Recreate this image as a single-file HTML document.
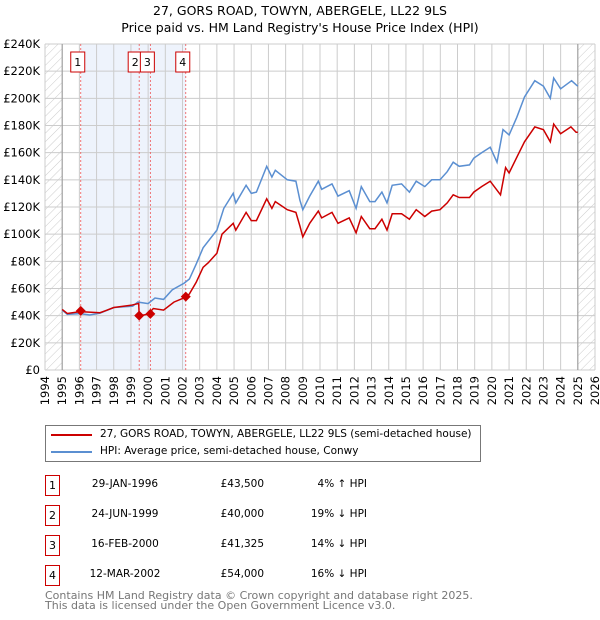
<!DOCTYPE html>
<html><head><meta charset="utf-8"><style>
body{margin:0;background:#fff;font-family:"DejaVu Sans","Liberation Sans",sans-serif;}
#wrap{position:relative;width:600px;height:620px;overflow:hidden;}
.t{position:absolute;font-size:10.5px;color:#000;white-space:nowrap;}
.box{position:absolute;width:13px;height:19px;border:1px solid #c00;font-size:11px;text-align:center;line-height:19px;}
</style></head><body><div id="wrap">
<svg id="svg" width="600" height="420" style="position:absolute;left:0;top:0;font-family:'DejaVu Sans','Liberation Sans',sans-serif"></svg>
<div class="t" style="left:0;width:600px;text-align:center;top:3px;font-size:12.5px">27, GORS ROAD, TOWYN, ABERGELE, LL22 9LS</div>
<div class="t" style="left:0;width:600px;text-align:center;top:20px;font-size:12.5px">Price paid vs. HM Land Registry's House Price Index (HPI)</div>
<div style="position:absolute;left:45px;top:425px;width:434px;height:35px;border:1px solid #777">
 <div style="position:absolute;left:5px;top:8px;width:41px;height:2px;background:#c00"></div>
 <div class="t" style="left:54px;top:2px">27, GORS ROAD, TOWYN, ABERGELE, LL22 9LS (semi-detached house)</div>
 <div style="position:absolute;left:5px;top:25px;width:41px;height:2px;background:#5b8fd1"></div>
 <div class="t" style="left:54px;top:19px">HPI: Average price, semi-detached house, Conwy</div>
</div>
<div id="tbl"></div>
<div class="t" style="left:45px;top:591px;color:#777;line-height:10px;font-size:11px">Contains HM Land Registry data © Crown copyright and database right 2025.<br>This data is licensed under the Open Government Licence v3.0.</div>
</div>
<script>
const yTicks=[0,20,40,60,80,100,120,140,160,180,200,220,240];
const years=[1994,1995,1996,1997,1998,1999,2000,2001,2002,2003,2004,2005,2006,2007,2008,2009,2010,2011,2012,2013,2014,2015,2016,2017,2018,2019,2020,2021,2022,2023,2024,2025,2026];
const hpiDates=[1995.0,1995.3,1996.04,1996.6,1997.2,1998.0,1999.1,1999.4,2000.0,2000.4,2000.9,2001.4,2002.1,2002.4,2002.8,2003.2,2004.0,2004.4,2004.95,2005.1,2005.7,2006.0,2006.3,2006.9,2007.2,2007.4,2008.1,2008.6,2008.83,2009.0,2009.4,2009.9,2010.1,2010.7,2011.05,2011.7,2012.1,2012.4,2012.9,2013.2,2013.6,2013.9,2014.2,2014.75,2015.2,2015.6,2016.1,2016.5,2016.98,2017.4,2017.75,2018.1,2018.7,2018.95,2019.4,2019.9,2020.3,2020.65,2021.0,2021.45,2021.9,2022.5,2023.0,2023.4,2023.6,2024.0,2024.64,2024.9,2025.0];
const hpiValues=[44,41,41.5,40.5,41.9,46,47,50,48.9,53,52,59,64,67,78,90,103,119,130,123,136,130,131,150,142,147,140,139,125,118,128,139,133,137,128,132,119,135,124,124,131,123,136,137,131,139,135,140,140,146,153,150,151,156,160,164,153,177,173,186,201,213,209,200,215,207,213,210,209];
const propDates=[1995.0,1995.3,1996.04,1997.2,1997.6,1998.0,1999.0,1999.45,1999.48,2000.0,2000.3,2000.9,2001.5,2002.2,2002.4,2002.8,2003.2,2003.5,2004.0,2004.3,2004.95,2005.1,2005.7,2006.0,2006.3,2006.9,2007.2,2007.4,2008.1,2008.6,2008.83,2009.0,2009.4,2009.9,2010.1,2010.7,2011.05,2011.7,2012.1,2012.4,2012.9,2013.2,2013.6,2013.9,2014.2,2014.75,2015.2,2015.6,2016.1,2016.5,2016.98,2017.4,2017.75,2018.1,2018.7,2018.95,2019.4,2019.9,2020.5,2020.8,2021.0,2021.5,2021.9,2022.5,2023.0,2023.4,2023.6,2024.0,2024.6,2024.9,2025.0];
const propValues=[44.6,41.6,43,42.2,44,46,47.6,49,40,41.1,45.3,44.1,50,53.7,56,64.6,75.6,79,86,100,108,103,116,110,110,126,119,124,118,116,106,98,108,117,112,116,108,112,101,113,104,104,111,103,115,115,111,118,113,117,118,123,129,127,127,131,135,139,129,149,145,158,168,179,177,168,181,174,179,175,175];
const saleDates=[1996.08,1999.48,2000.13,2002.19];
const salePrices=[43.5,40,41.325,54];
const saleLabels=["1","2","3","4"];
const saleDateText=["29-JAN-1996","24-JUN-1999","16-FEB-2000","12-MAR-2002"];
const salePriceText=["£43,500","£40,000","£41,325","£54,000"];
const saleHpiText=["4% ↑ HPI","19% ↓ HPI","14% ↓ HPI","16% ↓ HPI"];
const X0=45,X1=595,Y0=370,Y1=44;
const xs=d=>X0+(d-1994)/(2026-1994)*(X1-X0);
const ys=v=>Y0-v/240*(Y0-Y1);
const NS="http://www.w3.org/2000/svg",svg=document.getElementById('svg');
function mk(tag,at,parent){const e=document.createElementNS(NS,tag);for(const k in at)e.setAttribute(k,at[k]);(parent||svg).appendChild(e);return e;}
const defs=mk('defs',{});
const pat=mk('pattern',{id:'hatch',width:6,height:6,patternUnits:'userSpaceOnUse',patternTransform:'rotate(45)'},defs);
mk('line',{x1:0,y1:0,x2:0,y2:6,stroke:'#ccc','stroke-width':1},pat);
let e;
e=mk('rect',{x:X0,y:Y1,width:xs(1995)-X0,height:Y0-Y1,fill:'url(#hatch)'});

e=mk('rect',{x:xs(2025),y:Y1,width:X1-xs(2025),height:Y0-Y1,fill:'url(#hatch)'});

e=mk('rect',{x:xs(saleDates[0]),y:Y1,width:xs(saleDates[3])-xs(saleDates[0]),height:Y0-Y1,fill:'#eef3fc'});

yTicks.forEach(v=>{
 e=mk('line',{x1:X0,x2:X1,y1:ys(v),y2:ys(v),stroke:'#ccc'});
 
 e=mk('text',{x:X0-5,y:ys(v)+4,'text-anchor':'end','font-size':11.5,fill:'#000'});
 e.textContent=v===0?'£0':'£'+v+'K';
 
});
years.forEach(y=>{
 e=mk('line',{x1:xs(y),x2:xs(y),y1:Y1,y2:Y0,stroke:'#ccc'});
 
 e=mk('text',{x:0,y:0,'text-anchor':'end','font-size':11.5,fill:'#000',transform:`translate(${xs(y)+4},${Y0+6}) rotate(-90)`});
 e.textContent=y;
 
});
[1995,2025].forEach(y=>{e=mk('line',{x1:xs(y),x2:xs(y),y1:Y1,y2:Y0,stroke:'#999'});
 });
saleDates.forEach((d,i)=>{
 e=mk('line',{x1:xs(d),x2:xs(d),y1:Y1,y2:Y0,stroke:'#e55','stroke-dasharray':'2,2','stroke-width':0.8});
 
});
const off=[-3,-4,-3,-3];
saleDates.forEach((d,i)=>{
 const cx=xs(d)+off[i];
 e=mk('rect',{x:cx-7,y:52,width:14,height:20,fill:'#fff',stroke:'#c00'});
 
 e=mk('text',{x:cx,y:66,'text-anchor':'middle','font-size':11,fill:'#000'});e.textContent=saleLabels[i];
 
});
function path(ds,vs){return ds.map((d,i)=>(i?'L':'M')+xs(d).toFixed(1)+','+ys(vs[i]).toFixed(1)).join('');}
e=mk('path',{d:path(hpiDates,hpiValues),fill:'none',stroke:'#5b8fd1','stroke-width':1.5});

e=mk('path',{d:path(propDates,propValues),fill:'none',stroke:'#c00','stroke-width':1.5});

saleDates.forEach((d,i)=>{
 const x=xs(d),y=ys(salePrices[i]);
 e=mk('path',{d:`M${x},${y-5}L${x+5},${y}L${x},${y+5}L${x-5},${y}Z`,fill:'#c00'});
 
});
const tbl=document.getElementById('tbl');
saleLabels.forEach((l,i)=>{
 const top=475+i*30;
 let b=document.createElement('div');b.className='box';b.style.left='45px';b.style.top=top+'px';b.textContent=l;
 tbl.appendChild(b);
 const cols=[[saleDateText[i],85,80,'center'],[salePriceText[i],190,74,'right'],[saleHpiText[i],280,87,'right']];
 cols.forEach(c=>{let t=document.createElement('div');t.className='t';t.style.left=c[1]+'px';t.style.width=c[2]+'px';t.style.textAlign=c[3];t.style.top=(top+3)+'px';t.textContent=c[0];
  tbl.appendChild(t);});
});
</script></body></html>
